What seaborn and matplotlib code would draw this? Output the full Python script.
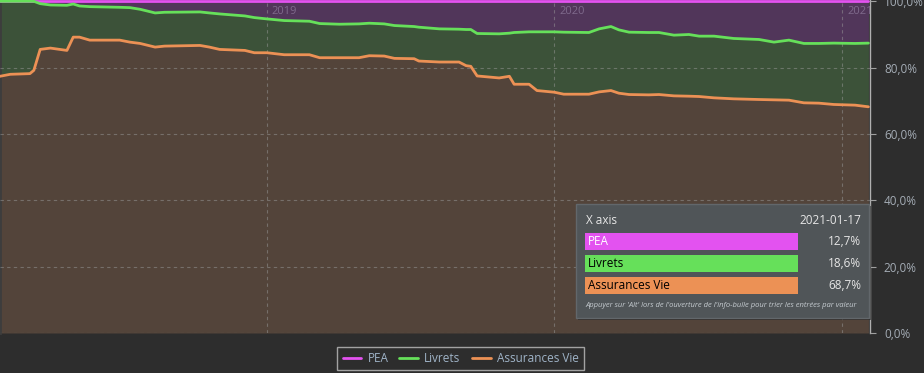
import matplotlib
matplotlib.use("Agg")
import matplotlib.pyplot as plt
import matplotlib.transforms as mtransforms
from matplotlib.patches import Rectangle
from matplotlib.lines import Line2D
import pandas as pd
import seaborn as sns

# ---------------- data ----------------
dates = ["2018-01-27", "2018-02-09", "2018-03-06", "2018-03-11", "2018-03-19", "2018-04-01",
         "2018-04-22", "2018-04-30", "2018-05-08", "2018-05-21", "2018-06-28", "2018-07-11",
         "2018-07-24", "2018-08-12", "2018-08-24", "2018-10-08", "2018-10-20", "2018-11-02",
         "2018-12-04", "2018-12-16", "2019-01-01", "2019-01-23", "2019-02-24", "2019-03-09",
         "2019-04-03", "2019-04-28", "2019-05-11", "2019-05-30", "2019-06-12", "2019-07-07",
         "2019-07-13", "2019-08-08", "2019-09-02", "2019-09-11", "2019-09-17", "2019-09-25",
         "2019-10-23", "2019-11-05", "2019-11-11", "2019-11-30", "2019-12-10", "2020-01-01",
         "2020-01-13", "2020-02-14", "2020-02-27", "2020-03-13", "2020-03-23", "2020-04-05",
         "2020-04-30", "2020-05-13", "2020-06-01", "2020-06-20", "2020-07-03", "2020-07-22",
         "2020-08-16", "2020-09-17", "2020-10-06", "2020-10-25", "2020-11-13", "2020-12-02",
         "2020-12-21", "2021-01-17", "2021-02-03"]

pea = [0, 0, 0, 0, 0.7, 1.1, 1.2, 0.8, 1.4, 1.6,
       1.8, 1.9, 2.4, 3.5, 3.3, 3.2, 3.5, 3.8, 4.4, 4.9,
       5.3, 5.8, 6.0, 6.7, 6.9, 6.8, 6.6, 6.8, 7.3, 7.6,
       7.8, 8.3, 8.4, 8.5, 8.5, 9.7, 9.8, 9.6, 9.4, 9.2,
       9.2, 9.2, 9.3, 9.4, 8.3, 7.6, 8.6, 9.3, 9.4, 9.4,
       10.2, 10.0, 10.5, 10.5, 11.2, 11.5, 12.3, 11.7, 12.7, 12.7,
       12.6, 12.7, 12.6]

livrets = [22.6, 22.0, 21.8, 20.8, 13.8, 13.0, 13.6, 10.0, 9.4, 10.1,
           9.9, 10.4, 10.3, 10.3, 10.2, 10.1, 10.3, 10.7, 10.4, 10.6,
           10.2, 10.3, 10.1, 10.3, 10.1, 10.2, 9.8, 9.7, 9.9, 9.7,
           10.2, 10.0, 9.9, 10.9, 11.1, 12.8, 13.3, 13.0, 15.6, 15.8,
           17.7, 18.2, 18.7, 18.6, 19.0, 19.3, 19.1, 18.8, 18.8, 18.7,
           18.3, 18.6, 18.2, 18.6, 18.2, 18.1, 17.4, 18.1, 17.9, 18.0,
           18.5, 18.6, 19.2]

assurances_vie = [77.4, 78.0, 78.2, 79.2, 85.5, 85.9, 85.2, 89.2, 89.2, 88.3,
                  88.3, 87.7, 87.3, 86.2, 86.5, 86.7, 86.2, 85.5, 85.2, 84.5,
                  84.5, 83.9, 83.9, 83.0, 83.0, 83.0, 83.6, 83.5, 82.8, 82.7,
                  82.0, 81.7, 81.7, 80.6, 80.4, 77.5, 76.9, 77.4, 75.0, 75.0,
                  73.1, 72.6, 72.0, 72.0, 72.7, 73.1, 72.3, 71.9, 71.8, 71.9,
                  71.5, 71.4, 71.3, 70.9, 70.6, 70.4, 70.3, 70.2, 69.4, 69.3,
                  68.9, 68.7, 68.2]

series_names = ["PEA", "Livrets", "Assurances Vie"]
year_labels = ["2019", "2020", "2021"]
y_ticks = [0, 20, 40, 60, 80, 100]
x_start, x_end = "2018-01-27", "2021-02-05"
tooltip_title = "X axis"
tooltip_date = "2021-01-17"
tooltip_hint = "Appuyer sur 'Alt' lors de l'ouverture de l'info-bulle pour trier les entrées par valeur"

# ---------------- style ----------------
W, H = 924, 373
BG = "#2d2d2d"
LINE_COLORS = {"PEA": "#e352f0", "Livrets": "#66e05a", "Assurances Vie": "#ec9155"}
FILL_COLORS = {"PEA": "#51365a", "Livrets": "#3c5239", "Assurances Vie": "#53443a"}

sns.set_theme(style="dark", rc={"figure.facecolor": BG, "axes.facecolor": BG,
                                "savefig.facecolor": BG})
plt.rcParams["font.family"] = ["Open Sans", "DejaVu Sans"]


def fx(px):
    return px / W


def fy(py):
    return 1 - py / H


fig = plt.figure(figsize=(W / 100, H / 100), dpi=100)
ax = fig.add_axes([0, fy(333), fx(870), 333 / H])

df = pd.DataFrame({"date": pd.to_datetime(dates), "PEA": pea, "Livrets": livrets,
                   "Assurances Vie": assurances_vie})
df["top_av"] = df["Assurances Vie"]
df["top_liv"] = df["top_av"] + df["Livrets"]
df["top_pea"] = df["top_liv"] + df["PEA"]

ax.fill_between(df["date"], 0, df["top_av"], color=FILL_COLORS["Assurances Vie"], lw=0, zorder=1)
ax.fill_between(df["date"], df["top_av"], df["top_liv"], color=FILL_COLORS["Livrets"], lw=0, zorder=1)
ax.fill_between(df["date"], df["top_liv"], df["top_pea"], color=FILL_COLORS["PEA"], lw=0, zorder=1)

long = pd.concat([
    pd.DataFrame({"date": df["date"], "value": df["top_pea"], "series": "PEA"}),
    pd.DataFrame({"date": df["date"], "value": df["top_liv"], "series": "Livrets"}),
    pd.DataFrame({"date": df["date"], "value": df["top_av"], "series": "Assurances Vie"}),
])
sns.lineplot(data=long, x="date", y="value", hue="series", hue_order=series_names,
             palette=LINE_COLORS, linewidth=2, ax=ax, legend=False, zorder=3)

ax.set_xlim(pd.Timestamp(x_start), pd.Timestamp(x_end))
ax.set_ylim(0, 100.4)
ax.set_xlabel("")
ax.set_ylabel("")

year_dates = [pd.Timestamp(f"{y}-01-01") for y in year_labels]
ax.set_xticks(year_dates)
ax.tick_params(axis="x", length=0, labelbottom=False)
ax.set_yticks(y_ticks)
ax.set_yticklabels([f"{v:.1f}".replace(".", ",") + "%" for v in y_ticks])
ax.yaxis.tick_right()
ax.tick_params(axis="y", direction="out", length=4.5, width=0.8, color="#a0a0a0",
               pad=5.5, labelsize=8.5, labelcolor="#a4acb5", left=False, right=True)
ax.grid(True, color="#9a9a9a", alpha=0.5, linestyle=(0, (3, 3)), linewidth=0.8, zorder=2)
ax.set_axisbelow(False)
for gl in ax.get_xgridlines() + ax.get_ygridlines():
    gl.set_zorder(2)

for s in ["top", "bottom"]:
    ax.spines[s].set_visible(False)
ax.spines["right"].set_visible(True)
ax.spines["right"].set_color("#b0b0b0")
ax.spines["right"].set_linewidth(1)
ax.spines["left"].set_visible(True)
ax.spines["left"].set_color("#3d3d3d")
ax.spines["left"].set_linewidth(2)

# year labels inside the plot, next to the vertical grid lines
blend = mtransforms.blended_transform_factory(ax.transData, ax.transAxes)
for lbl, d in zip(year_labels, year_dates):
    tr = blend + mtransforms.ScaledTranslation(0.05, -0.12, fig.dpi_scale_trans)
    ax.text(d, 1, lbl, transform=tr, ha="left", va="center", fontsize=8,
            color="#7f6a8c", clip_on=True, zorder=4)

# legend
handles = [Line2D([], [], color=LINE_COLORS[n], lw=2) for n in series_names]
leg = fig.legend(handles, series_names, loc="center", bbox_to_anchor=(fx(460.5), fy(358.5)),
                 ncol=3, frameon=True, fancybox=False, edgecolor="#c0c0c0", facecolor=BG,
                 fontsize=8.5, labelcolor="#a0b4c8", handlelength=1.6, handletextpad=0.5,
                 columnspacing=0.95, borderpad=0.45, borderaxespad=0)
leg.get_frame().set_linewidth(1)

# tooltip
row = df[df["date"] == pd.Timestamp(tooltip_date)].iloc[0]
fig.add_artist(Rectangle((fx(578), fy(320)), fx(293), 114 / H, transform=fig.transFigure,
                         facecolor="#1c1c1c", alpha=0.6, edgecolor="none", zorder=10))
fig.add_artist(Rectangle((fx(576), fy(318)), fx(293), 114 / H, transform=fig.transFigure,
                         facecolor="#505558", edgecolor="#62676b", lw=1, zorder=11))
fig.text(fx(586), fy(221), tooltip_title, ha="left", va="center", fontsize=8.5,
         color="#e6e6e6", zorder=12)
fig.text(fx(861), fy(221), tooltip_date, ha="right", va="center", fontsize=8.5,
         color="#e6e6e6", zorder=12)
bar_tops = [233, 255, 277]
text_colors = {"PEA": "white", "Livrets": "black", "Assurances Vie": "black"}
for name, top in zip(series_names, bar_tops):
    fig.add_artist(Rectangle((fx(585), fy(top + 17)), fx(213), 17 / H, transform=fig.transFigure,
                             facecolor=LINE_COLORS[name], edgecolor="none", zorder=12))
    fig.text(fx(588), fy(top + 8.5), name, ha="left", va="center", fontsize=8.5,
             color=text_colors[name], zorder=13)
    fig.text(fx(861), fy(top + 8.5), f"{row[name]:.1f}".replace(".", ",") + "%",
             ha="right", va="center", fontsize=8.5, color="#e6e6e6", zorder=13)
fig.text(fx(585), fy(305.5), tooltip_hint, ha="left", va="center", fontsize=5.5,
         style="italic", color="#c5cbd0", zorder=12)

fig.savefig("out.png", dpi=100, facecolor=BG)
